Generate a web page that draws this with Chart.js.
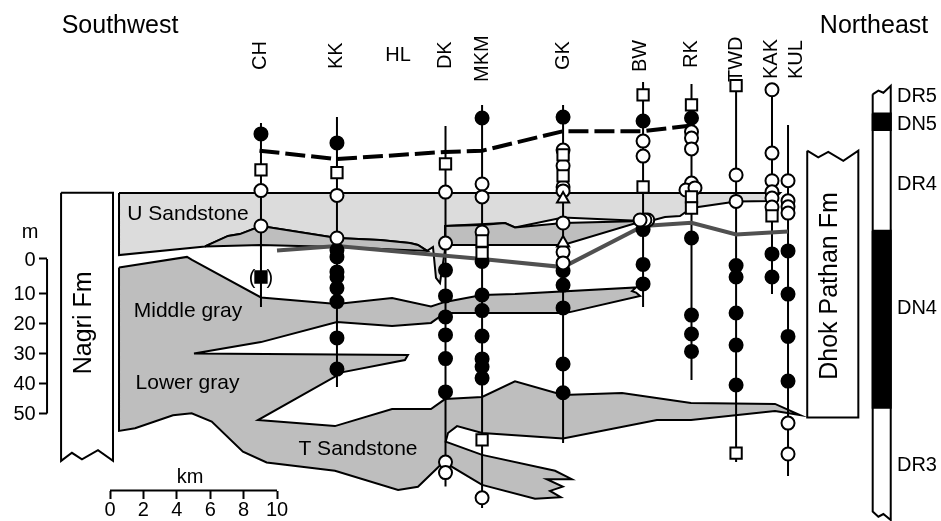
<!DOCTYPE html>
<html>
<head>
<meta charset="utf-8">
<style>
    html, body { margin: 0; padding: 0; background: #fff; }
    canvas { display: block; }
</style>
<script src="https://cdn.jsdelivr.net/npm/chart.js@4/dist/chart.umd.min.js"></script>
</head>
<body>
<canvas id="sectionChart" width="941" height="521"></canvas>
<script>
// Sections along the transect: km from the scale bar origin, metres below the datum
const sections = ['CH', 'KK', 'DK', 'MKM', 'GK', 'BW', 'RK', 'TWD', 'KAK', 'KUL'];
const sectionKm = [9.04, 13.59, 20.09, 22.28, 27.13, 31.92, 34.82, 37.49, 39.64, 40.6];
const sectionTop = [-46.8, -48.8, -45.8, -52.8, -52.8, -60.5, -59.8, -61.2, -58.2, -46.2];
const sectionBase = [14.5, 41.2, 74.3, 81.5, 59.8, 14.5, 38.8, 66.2, 10.2, 70.8];

const filledCircles = [
    [-43.2],
    [-40.2, -4.5, -2.2, 2.8, 4.5, 8.2, 12.7, 24.8, 35.2],
    [2.2, 10.8, 17.8, 23.8, 31.7, 42.8],
    [-48.5, -0.7, 10.5, 15.7, 24.2, 31.8, 34.4, 38.2],
    [-48.8, 2.4, 7.2, 14.8, 33.5, 43.1],
    [-47.5, -11.3, 0.3, 6.8],
    [-48.5, -8.5, 17.2, 23.5, 29.3],
    [0.7, 4.5, 16.5, 27.2, 40.5],
    [-3.2, 4.5],
    [-4.2, 10.2, 24.3, 39.2]
];
const openCircles = [
    [-24.3, -12.5],
    [-22.7, -8.5],
    [-23.8, -6.8, 66.2, 69.7],
    [-26.5, -22.2, -10.5, 78.1],
    [-37.8, -32.6, -25.5, -24.2, -13.5, -3.8, -0.2],
    [-40.8, -35.8],
    [-43.9, -41.8, -38.2, -26.8],
    [-29.5, -20.7],
    [-57.9, -36.8, -27.6, -23.9, -21.8, -18.8],
    [-27.6, -20.9, -18.9, -16.8, 53.2, 63.5]
];
const openSquares = [
    [-31.2],
    [-30.3],
    [-33.2],
    [-7.5, -3.5, 58.8],
    [-36.2, -29.2],
    [-56.2, -25.5],
    [-52.9, -22.2, -18.5],
    [-59.3, 63.2],
    [-15.9],
    []
];
const openTriangles = [[], [], [], [], [-21.5, -6.8], [], [], [], [], []];

// Circles set off to the side of BW and RK, and the bracketed square at CH
const sideCircleKm = [32.2, 32.03, 31.74, 34.49, 35.03];
const sideCircleM = [-14.5, -14.5, -14.5, -24.5, -25.2];
const bracketSquareKm = [9.04];
const bracketSquareM = [4.5];

// Correlation lines
const dashedKm = [8.95, 13.59, 20.06, 22.28, 27.13, 31.92, 34.82];
const dashedM = [-37.6, -34.8, -37.2, -37.6, -44.1, -44.1, -46];
const grayLineKm = [10, 13.59, 17.37, 22.28, 27.13, 31.92, 34.82, 37.49, 40.6];
const grayLineM = [-4.3, -5.8, -3.9, -1.5, 1.2, -12.5, -13.6, -9.7, -10.7];

// Sandstone bodies
const upperSandKm = [0.54, 40.12, 39.64, 37.49, 34.82, 34.13, 33.23, 32.34, 31.92, 27.13, 24.25, 23.65, 20.06, 20.06, 19.76, 19.52, 19.34, 18.99, 18.44, 17.96, 16.17, 13.59, 9.04, 7.78, 7.07, 5.69, 0.54, 0.54];
const upperSandM = [-23.5, -23.5, -20.8, -20.7, -18.5, -15.8, -15.5, -14.2, -14.2, -15.3, -12, -13.5, -12.5, -4.5, 6.5, 4.8, -5.5, -4.2, -6.2, -6.8, -7.8, -8.5, -12.5, -9.8, -9.2, -5.7, -2.8, -23.5];
const lensWestKm = [5.69, 7.07, 7.78, 9.04, 13.59, 16.17, 17.96, 18.44, 18.99, 13.59, 9.04, 5.69];
const lensWestM = [-5.7, -9.2, -9.8, -12.5, -8.5, -7.8, -6.8, -6.2, -4.2, -5.5, -6.2, -5.7];
const lensEastKm = [20.06, 22.28, 23.65, 24.25, 27.13, 31.92, 27.13, 20.06, 20.06];
const lensEastM = [-12.5, -12.8, -13.5, -12, -13.5, -14.2, -6.2, -6.2, -12.5];
const grayBodyKm = [0.54, 4.61, 4.91, 9.04, 13.59, 16.89, 19.22, 20.06, 22.28, 24.25, 31.5, 31.26, 31.5, 31.74, 27.54, 27.13, 20.06, 19.22, 16.89, 13.59, 9.04, 5.03, 17.84, 17.66, 13.95, 8.86, 13.47, 16.89, 19.22, 20.06, 22.28, 24.25, 27.13, 30.66, 34.79, 39.82, 41.32, 39.82, 34.79, 32.75, 27.13, 22.28, 20.78, 20.24, 20.1, 22.28, 26.65, 27.65, 26.15, 27.11, 26.35, 26.99, 25.45, 22.28, 20.46, 20.1, 18.44, 17.25, 13.47, 9.38, 7.96, 6.09, 4.89, 3.77, 1.5, 0.54, 0.54];
const grayBodyM = [1.3, -2.2, -1.2, 11.3, 13.5, 11.5, 14.3, 12.8, 10.5, 10.2, 8, 9.2, 9.7, 10.8, 16.2, 16.5, 16.5, 19.8, 20.8, 19.5, 26.2, 30, 30.5, 32.2, 36.2, 52.2, 54.2, 48.5, 48.5, 45.2, 44.5, 39.3, 43.8, 43.2, 46.5, 46.8, 50.5, 49.2, 52.2, 52.2, 58.3, 56.5, 54.2, 56.5, 59.4, 63.8, 69.1, 71.9, 71.9, 74.4, 75.8, 77.9, 78.4, 73.8, 67.7, 65.5, 74.4, 75.5, 69.1, 66.3, 62.7, 52.7, 49.9, 50.6, 54.9, 55.8, 1.3];

// Formation boxes
const nagriKm = [-2.93, 0.18, 0.18, -0.72, -1.68, -2.28, -2.93, -2.93];
const nagriM = [-23.6, -23.6, 65.8, 62.2, 65.3, 63.1, 65.8, -23.6];
const dhokKm = [41.75, 42.41, 43.01, 43.91, 44.81, 44.81, 41.75, 41.75];
const dhokM = [-37.6, -35.4, -37.2, -34.2, -37.6, 51.3, 51.3, -37.6];

// Magnetostratigraphic column
const columnKm = [45.67, 46.01, 46.31, 46.75, 46.75, 46.31, 46.01, 45.67, 45.67];
const columnM = [-56.4, -57.6, -56.9, -59.2, 85.5, 83.5, 84.4, 82.7, -56.4];
const columnLeftKm = 45.67;
const columnRightKm = 46.75;
const blackZoneTop = [-50, -10.9];
const blackZoneBase = [-44.5, 48.1];

// Scale bars
const kmTicks = [0, 2, 4, 6, 8, 10];
const kmTickLabels = ['0', '2', '4', '6', '8', '10'];
const kmBarM = 75.7;
// the source's 0 tick sits a little above where the other ticks would put it
const mTicks = [-1.5, 10, 20, 30, 40, 50];
const mTickLabels = ['0', '10', '20', '30', '40', '50'];
const mBarKm = -3.77;
const mLabelKm = -4.45;

// Text
const sectionLabelKm = [9.04, 13.59, 20.09, 22.28, 27.13, 31.74, 34.82, 37.49, 39.58, 41.08];
const sectionLabelM = [-64.5, -64.8, -64.8, -60.5, -64.5, -63.8, -65.2, -60.5, -61.5, -61.5];
const plainText = ['Southwest', 'Northeast', 'm', 'km', 'HL', '(  )', 'DR5', 'DN5', 'DR4', 'DN4', 'DR3'];
const plainTextKm = [0.6, 45.75, -4.79, 4.79, 17.25, 9.04, 48.32, 48.32, 48.32, 48.32, 48.32];
const plainTextM = [-79.2, -79.2, -10.4, 71.2, -69.4, 4.9, -55.6, -46.3, -26.3, 14.9, 67.4];
const plainTextSize = [25, 25, 20, 20, 20, 20, 20, 20, 20, 20, 20];
const unitText = ['U Sandstone', 'Middle gray', 'Lower gray', 'T Sandstone'];
const unitTextKm = [4.67, 4.67, 4.64, 14.85];
const unitTextM = [-16.4, 15.9, 39.8, 61.8];
const formationText = ['Nagri Fm', 'Dhok Pathan Fm'];
const formationTextKm = [-1.56, 43.11];
const formationTextM = [19.8, 7.5];

const FONT = '"Liberation Sans", Arial, sans-serif';
const LIGHT = '#dcdcdc';
const MID = '#bebebe';

const toPoints = (xs, ys) => xs.map((x, i) => ({ x: x, y: ys[i] }));

const datasets = [];

function addLine(points, color, width, dash) {
    datasets.push({
        type: 'scatter', data: points, showLine: true, tension: 0, fill: false,
        borderColor: color, borderWidth: width, borderDash: dash || [],
        pointRadius: 0, clip: false
    });
}

function addShape(xs, ys, fillColor) {
    datasets.push({
        type: 'scatter', data: toPoints(xs, ys), showLine: true, tension: 0, fill: 'shape',
        backgroundColor: fillColor, borderColor: '#000', borderWidth: 2, borderJoinStyle: 'miter',
        pointRadius: 0, clip: false
    });
}

function addMarks(points, style, radius, fillColor) {
    datasets.push({
        type: 'scatter', data: points, showLine: false,
        pointStyle: style, pointRadius: radius, pointBorderWidth: 2,
        pointBackgroundColor: fillColor, pointBorderColor: '#000', clip: false
    });
}

const markPoints = (rows) => rows.flatMap((row, i) => row.map(m => ({ x: sectionKm[i], y: m })));

// painted bottom to top
addShape(nagriKm, nagriM, '#fff');
addShape(dhokKm, dhokM, '#fff');
addShape(columnKm, columnM, '#fff');
blackZoneTop.forEach((top, i) => {
    addShape([columnLeftKm, columnRightKm, columnRightKm, columnLeftKm, columnLeftKm],
        [top, top, blackZoneBase[i], blackZoneBase[i], top], '#000');
});
addShape(upperSandKm, upperSandM, LIGHT);
addShape(lensWestKm, lensWestM, MID);
addShape(lensEastKm, lensEastM, MID);
addShape(grayBodyKm, grayBodyM, MID);

sections.forEach((name, i) => {
    addLine([{ x: sectionKm[i], y: sectionTop[i] }, { x: sectionKm[i], y: sectionBase[i] }], '#000', 2);
});
addLine(toPoints(grayLineKm, grayLineM), '#505050', 4);
addLine(toPoints(dashedKm, dashedM), '#000', 4, [20, 6]);
addLine([{ x: mBarKm, y: mTicks[0] }, { x: mBarKm, y: 50 }], '#000', 2);
addLine([{ x: 0, y: kmBarM }, { x: 10, y: kmBarM }], '#000', 2);

addMarks(markPoints(filledCircles), 'circle', 6.5, '#000');
addMarks(toPoints(bracketSquareKm, bracketSquareM), 'rect', 8, '#000');
addMarks(markPoints(openCircles), 'circle', 6.5, '#fff');
addMarks(toPoints(sideCircleKm, sideCircleM), 'circle', 6.5, '#fff');
addMarks(markPoints(openSquares), 'rect', 8, '#fff');
addMarks(markPoints(openTriangles), 'triangle', 7, '#fff');

// later entries paint on top
datasets.forEach((d, i) => { d.order = -i; });

const textPlugin = {
    id: 'textPlugin',
    afterDatasetsDraw(chart) {
        const ctx = chart.ctx;
        const xs = chart.scales.x;
        const ys = chart.scales.y;
        ctx.save();
        ctx.fillStyle = '#000';
        ctx.textBaseline = 'middle';
        ctx.textAlign = 'center';

        plainText.forEach((t, i) => {
            ctx.font = plainTextSize[i] + 'px ' + FONT;
            ctx.fillText(t, xs.getPixelForValue(plainTextKm[i]), ys.getPixelForValue(plainTextM[i]));
        });
        ctx.font = '21px ' + FONT;
        unitText.forEach((t, i) => {
            ctx.fillText(t, xs.getPixelForValue(unitTextKm[i]), ys.getPixelForValue(unitTextM[i]));
        });
        ctx.font = '25px ' + FONT;
        formationText.forEach((t, i) => {
            ctx.save();
            ctx.translate(xs.getPixelForValue(formationTextKm[i]), ys.getPixelForValue(formationTextM[i]));
            ctx.rotate(-Math.PI / 2);
            ctx.fillText(t, 0, 0);
            ctx.restore();
        });
        ctx.font = '20px ' + FONT;
        ctx.textAlign = 'right';
        mTickLabels.forEach((t, i) => {
            ctx.fillText(t, xs.getPixelForValue(mLabelKm), ys.getPixelForValue(mTicks[i]) + 1);
        });
        ctx.textAlign = 'left';
        sections.forEach((t, i) => {
            ctx.save();
            ctx.translate(xs.getPixelForValue(sectionLabelKm[i]), ys.getPixelForValue(sectionLabelM[i]));
            ctx.rotate(-Math.PI / 2);
            ctx.fillText(t, 0, 0);
            ctx.restore();
        });
        ctx.restore();
    }
};

// axes sit inside the plot, so they must not take margin from it
function dropAxisPadding(axis) {
    axis.paddingLeft = 0;
    axis.paddingRight = 0;
    axis.paddingTop = 0;
    axis.paddingBottom = 0;
}

new Chart(document.getElementById('sectionChart'), {
    data: { datasets: datasets },
    plugins: [textPlugin],
    options: {
        responsive: false,
        animation: false,
        layout: { padding: 0, autoPadding: false },
        plugins: { legend: { display: false }, tooltip: { enabled: false } },
        scales: {
            x: {
                type: 'linear',
                position: { y: kmBarM },
                min: -6.587,
                max: 49.76,
                afterBuildTicks: (axis) => { axis.ticks = kmTicks.map(v => ({ value: v })); },
                afterFit: dropAxisPadding,
                ticks: {
                    autoSkip: false, maxRotation: 0, padding: 0, color: '#000',
                    font: { family: FONT, size: 20 },
                    callback: (value, index) => kmTickLabels[index]
                },
                border: { display: false },
                grid: { drawOnChartArea: false, drawTicks: true, tickLength: 8, tickColor: '#000', tickWidth: 2 }
            },
            y: {
                type: 'linear',
                position: { x: mBarKm },
                reverse: true,
                min: -87.83,
                max: 85.83,
                afterBuildTicks: (axis) => { axis.ticks = mTicks.map(v => ({ value: v })); },
                afterFit: dropAxisPadding,
                ticks: { display: false },
                border: { display: false },
                grid: { drawOnChartArea: false, drawTicks: true, tickLength: 8, tickColor: '#000', tickWidth: 2 }
            }
        }
    }
});
</script>
</body>
</html>
